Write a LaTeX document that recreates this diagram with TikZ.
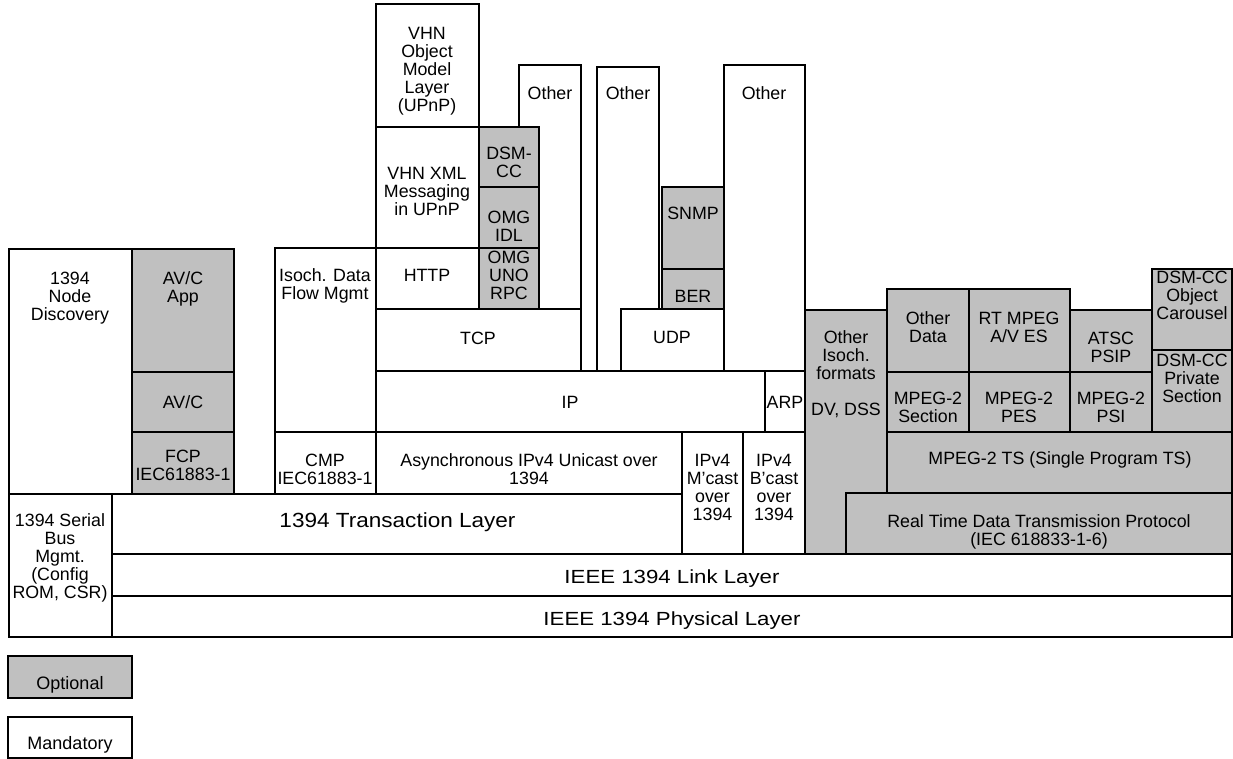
\documentclass[tikz,border=0pt]{standalone}
\usepackage{fontspec}
\setmainfont{Liberation Sans}
\newfontfamily\transfont[FakeStretch=1.1]{Liberation Sans}
\newfontfamily\layerfont[FakeStretch=1.17]{Liberation Sans}
\definecolor{optgray}{RGB}{192,192,192}
\begin{document}
\begin{tikzpicture}[x=1pt,y=-1pt,
  box/.style={draw=black, line width=1.4pt, fill=white},
  opt/.style={box, fill=optgray},
  lbl/.style={anchor=north, yshift=6.3pt, align=center, inner sep=0pt,
    font=\fontsize{17.8}{18}\selectfont, execute at begin node=\strut},
  big/.style={anchor=base, inner sep=0pt, font=\transfont\fontsize{20.5}{22}\selectfont},
  layer/.style={anchor=base, inner sep=0pt, font=\layerfont\fontsize{19}{21}\selectfont},
  legend/.style={anchor=base, inner sep=0pt, font=\fontsize{18}{20}\selectfont}
]
\useasboundingbox (0,0) rectangle (1233,759);

% left column
\draw[box] (9,249) rectangle (132,494);
\draw[opt] (132,249) rectangle (234,372);
\draw[opt] (132,372) rectangle (234,432);
\draw[opt] (132,432) rectangle (234,494);
\draw[box] (275,248) rectangle (376,432);
\draw[box] (275,432) rectangle (376,494);

% upper stacks
\draw[box] (519,65) rectangle (581,309);
\draw[box] (597,67) rectangle (659,371);
\draw[box] (724,65) rectangle (805,371);
\draw[box] (376,4) rectangle (479,127);
\draw[box] (376,127) rectangle (479,248);
\draw[box] (376,248) rectangle (479,309);
\draw[opt] (479,127) rectangle (539,187);
\draw[opt] (479,187) rectangle (539,248);
\draw[opt] (479,248) rectangle (539,309);
\draw[opt] (662,187) rectangle (724,269);
\draw[opt] (662,269) rectangle (724,309);
\draw[box] (376,309) rectangle (581,371);
\draw[box] (621,309) rectangle (724,371);
\draw[box] (376,371) rectangle (765,432);
\draw[box] (765,371) rectangle (805,432);
\draw[box] (376,432) rectangle (682,494);
\draw[box] (682,432) rectangle (743,554);
\draw[box] (743,432) rectangle (805,554);

% bottom layers
\draw[box] (9,494) rectangle (112,637);
\draw[box] (112,494) rectangle (682,554);
\draw[box] (112,554) rectangle (1232,596);
\draw[box] (112,596) rectangle (1232,637);

% right MPEG stack
\draw[opt] (805,310) rectangle (887,554);
\draw[opt] (887,289) rectangle (969,372);
\draw[opt] (969,289) rectangle (1070,372);
\draw[opt] (1070,310) rectangle (1152,372);
\draw[opt] (1152,269) rectangle (1232,350);
\draw[opt] (1152,350) rectangle (1232,432);
\draw[opt] (887,372) rectangle (969,432);
\draw[opt] (969,372) rectangle (1070,432);
\draw[opt] (1070,372) rectangle (1152,432);
\draw[opt] (887,432) rectangle (1232,493);
\draw[opt] (846,493) rectangle (1232,554);

% legend
\draw[opt] (8,656) rectangle (132,698);
\draw[box] (8,717) rectangle (132,758);

% labels
\node[lbl] (nodedisc) at (70,278) {1394\\Node\\Discovery};
\node[lbl] (avcapp) at (183,278) {AV/C\\App};
\node[lbl] (avc) at (183,402) {AV/C};
\node[lbl] (fcp) at (183,456) {FCP\\IEC61883-1};
\node[lbl] (isoch) at (325,275) {Isoch. Data\\Flow Mgmt};
\node[lbl] (cmp) at (325,460) {CMP\\IEC61883-1};
\node[lbl] (vhnobj) at (427,33) {VHN\\Object\\Model\\Layer\\(UPnP)};
\node[lbl] (vhnxml) at (427,173) {VHN XML\\Messaging\\in UPnP};
\node[lbl] (http) at (427,275) {HTTP};
\node[lbl] (dsmcc) at (509,153) {DSM-\\CC};
\node[lbl] (omgidl) at (509,217) {OMG\\IDL};
\node[lbl] (omguno) at (509,257) {OMG\\UNO\\RPC};
\node[lbl] (other1) at (550,93) {Other};
\node[lbl] (other2) at (628,93) {Other};
\node[lbl] (other3) at (764,93) {Other};
\node[lbl] (snmp) at (693,213) {SNMP};
\node[lbl] (ber) at (693,296) {BER};
\node[lbl] (tcp) at (478,338) {TCP};
\node[lbl] (udp) at (672,337) {UDP};
\node[lbl] (ip) at (570,402) {IP};
\node[lbl] (arp) at (785,402) {ARP};
\node[lbl] (async) at (529,460) {Asynchronous IPv4 Unicast over\\1394};
\node[lbl] (mcast) at (712.5,460) {IPv4\\M'cast\\over\\1394};
\node[lbl] (bcast) at (774,460) {IPv4\\B'cast\\over\\1394};
\node[big] (trans) at (397.5,527.3) {1394 Transaction Layer};
\node[lbl] (serial) at (60,520) {1394 Serial\\Bus\\Mgmt.\\(Config\\ROM, CSR)};
\node[layer] (link) at (672,583) {IEEE 1394 Link Layer};
\node[layer] (phys) at (672,625) {IEEE 1394 Physical Layer};
\node[lbl] (otherisoch) at (846,337) {Other\\Isoch.\\formats\\[18pt]DV, DSS};
\node[lbl] (otherdata) at (928,318) {Other\\Data};
\node[lbl] (rtmpeg) at (1019,318) {RT MPEG\\A/V ES};
\node[lbl] (atsc) at (1111,338) {ATSC\\PSIP};
\node[lbl] (dsmobj) at (1192,277) {DSM-CC\\Object\\Carousel};
\node[lbl] (dsmpriv) at (1192,360) {DSM-CC\\Private\\Section};
\node[lbl] (sect) at (928,398) {MPEG-2\\Section};
\node[lbl] (pes) at (1019,398) {MPEG-2\\PES};
\node[lbl] (psi) at (1111,398) {MPEG-2\\PSI};
\node[lbl] (ts) at (1060,458) {MPEG-2 TS (Single Program TS)};
\node[lbl] (rtdt) at (1039,521) {Real Time Data Transmission Protocol\\(IEC 618833-1-6)};
\node[legend] (optional) at (70,689) {Optional};
\node[legend] (mandatory) at (70,749) {Mandatory};
\end{tikzpicture}
\end{document}
